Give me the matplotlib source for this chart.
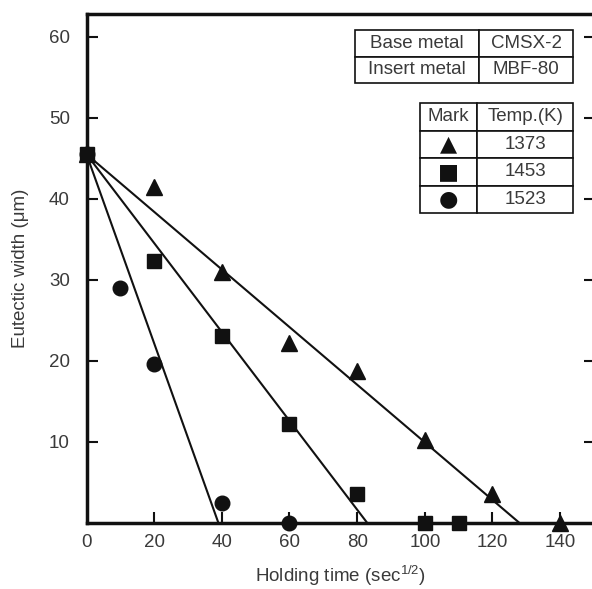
import numpy as np
import matplotlib
matplotlib.use("Agg")
import matplotlib.pyplot as plt

plt.rcParams['font.family'] = ['Liberation Sans', 'DejaVu Sans']
plt.rcParams['mathtext.default'] = 'regular'

# data
t_1373 = [0, 20, 40, 60, 80, 100, 120, 140]
w_1373 = [45.5, 41.5, 31.0, 22.2, 18.8, 10.2, 3.6, 0.0]
t_1453 = [0, 20, 40, 60, 80, 100, 110]
w_1453 = [45.5, 32.3, 23.1, 12.2, 3.6, 0.0, 0.0]
t_1523 = [0, 10, 20, 40, 60]
w_1523 = [45.5, 29.0, 19.6, 2.5, 0.0]

# fitted lines: common intercept and x where width reaches 0
w0 = 45.5
t_end = [128.0, 83.0, 39.0]

ink = '#111111'
txt = '#3a3a3a'

fig = plt.figure(figsize=(5.92, 5.89), dpi=100)
ax = fig.add_axes([86.5/592, 66/589, 508.5/592, 509/589])

for te in t_end:
    ax.plot([0, te], [w0, 0], color=ink, lw=1.5, zorder=2)

ax.plot(t_1373, w_1373, '^', color=ink, ms=11, zorder=3, clip_on=False)
ax.plot(t_1523, w_1523, 'o', color=ink, ms=10.5, zorder=3, clip_on=False)
ax.plot(t_1453, w_1453, 's', color=ink, ms=10.5, zorder=4, clip_on=False)

ax.set_xlim(0, 150.3)
ax.set_ylim(0, 62.8)
ax.set_xticks([0, 20, 40, 60, 80, 100, 120, 140])
ax.set_yticks([10, 20, 30, 40, 50, 60])
ax.tick_params(axis='both', direction='in', length=8, width=1.5, color=ink,
               labelsize=13.5, labelcolor=txt)
ax.tick_params(axis='x', pad=8)
ax.tick_params(axis='y', right=True, pad=12)
for s in ax.spines.values():
    s.set_linewidth(2.5)
    s.set_color(ink)

# no tick mark at x=0
ax.get_xticklines()[0].set_visible(False)

ax.set_xlabel('Holding time (sec$^{1/2}$)', fontsize=13.5, color=txt, labelpad=9)
ax.set_ylabel('Eutectic width (μm)', fontsize=13.5, color=txt, labelpad=14)

# tables
tb1 = ax.table(cellText=[['Base metal', 'CMSX-2'], ['Insert metal', 'MBF-80']],
               colWidths=[0.569, 0.431], cellLoc='center',
               bbox=[0.528, 0.864, 0.429, 0.104])
tb2 = ax.table(cellText=[['Mark', 'Temp.(K)'], ['▲', '1373'], ['■', '1453'], ['●', '1523']],
               colWidths=[0.373, 0.627], cellLoc='center',
               bbox=[0.656, 0.609, 0.301, 0.216])
for tb in (tb1, tb2):
    tb.auto_set_font_size(False)
    tb.set_fontsize(13.5)
    tb.set_zorder(5)
    for cell in tb.get_celld().values():
        cell.set_linewidth(1.2)
        cell.set_edgecolor(ink)
        cell.get_text().set_color(txt)
for r in (1, 2, 3):
    tb2[r, 0].get_text().set_color(ink)
    tb2[r, 0].get_text().set_fontsize(16)
    tb2[r, 0].get_text().set_family('DejaVu Sans')

fig.savefig('out.png', dpi=100)
